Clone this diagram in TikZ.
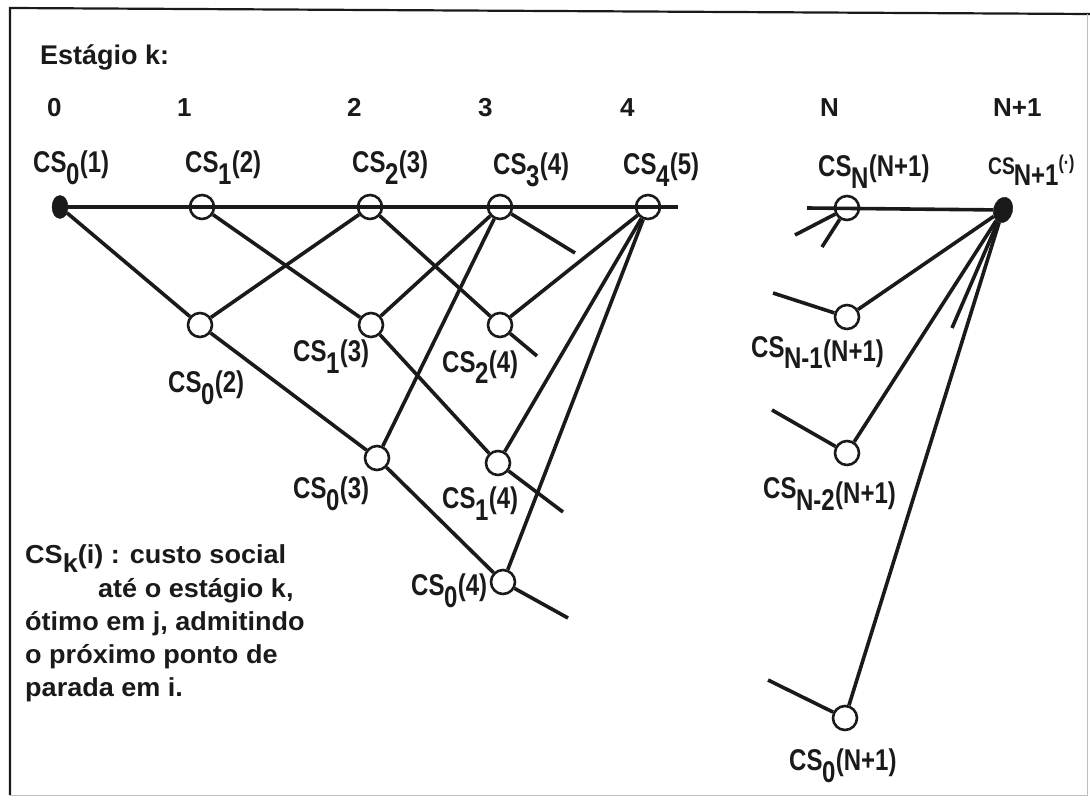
\documentclass[tikz,border=0pt]{standalone}
\usepackage{fontspec}
\usetikzlibrary{shapes.geometric}
\setmainfont{Liberation Sans}
\newfontfamily\lblfont{Liberation Sans}[FakeStretch=0.8]
\newfontfamily\legfont{Liberation Sans}[FakeStretch=1.04]
\newcommand{\sbx}[1]{\kern-0.5pt\raisebox{-12pt}{#1}\kern0.5pt}
\definecolor{ink}{HTML}{1A1A1A}
\begin{document}
\begin{tikzpicture}[x=1pt,y=-1pt,
  st/.style={circle,draw=ink,line width=2.6pt,minimum size=24pt,inner sep=0pt},
  fl/.style={ellipse,fill=ink,draw=ink,minimum width=16pt,minimum height=23pt,inner sep=0pt},
  ed/.style={line width=3.6pt,draw=ink},
  lbl/.style={anchor=base west,inner sep=0pt,text=ink,font=\lblfont\bfseries\fontsize{30}{30}\selectfont},
  stg/.style={anchor=base west,inner sep=0pt,text=ink,font=\bfseries\fontsize{26}{26}\selectfont},
  leg/.style={anchor=base west,inner sep=0pt,text=ink,font=\legfont\bfseries\fontsize{26}{26}\selectfont}]
\useasboundingbox (0,0) rectangle (1090,802);
% frame
\draw[line width=2.2pt,ink] (10,795) -- (10,8) -- (1090,14);
\draw[line width=1pt,black!25] (1087,14) -- (1087,795) -- (10,795);
% header
\node[stg,font=\bfseries\fontsize{27}{27}\selectfont] (title) at (40,65) {Estágio k:};
\node[stg] (k0) at (47,117) {0};
\node[stg] (k1) at (177,117) {1};
\node[stg] (k2) at (347,117) {2};
\node[stg] (k3) at (478,117) {3};
\node[stg] (k4) at (620,117) {4};
\node[stg] (kN) at (820,117) {N};
\node[stg] (kN1) at (993,117) {N+1};
% nodes
\node[fl] (A0) at (60,207) {};
\node[st] (n1) at (202,207) {};
\node[st] (n2) at (370,207) {};
\node[st] (n3) at (500,207) {};
\node[st] (n4) at (648,207) {};
\node[st] (c02) at (200,325) {};
\node[st] (c13) at (371,325) {};
\node[st] (c24) at (500,325) {};
\node[st] (c03) at (377,458) {};
\node[st] (c14) at (498,463) {};
\node[st] (c04) at (503,582) {};
\node[st] (nN) at (847,208) {};
\node[fl,minimum width=19pt,minimum height=26pt,rotate=-15] (AN) at (1003,210) {};
\node[st] (nNa) at (847,317) {};
\node[st] (nNb) at (847,453) {};
\node[st] (nNc) at (845,718) {};
% free ends
\coordinate (h1) at (678,207);
\coordinate (h2) at (807,208);
\coordinate (s04) at (568,618);
\coordinate (s14) at (563,512);
\coordinate (s24) at (537,356);
\coordinate (s3) at (575,253);
\coordinate (sNa) at (795,235);
\coordinate (sNb) at (822,247);
\coordinate (sa) at (773,293);
\coordinate (sb) at (772,410);
\coordinate (sc) at (768,680);
\coordinate (sAN) at (952,328);
% connectors
\draw[ed] (A0) -- (h1);
\draw[ed] (h2) -- (AN);
\draw[ed] (A0) -- (c02);
\draw[ed] (c02) -- (c03);
\draw[ed] (c03) -- (c04);
\draw[ed] (c04) -- (s04);
\draw[ed] (n1) -- (c13);
\draw[ed] (c13) -- (c14);
\draw[ed] (c14) -- (s14);
\draw[ed] (n2) -- (c24);
\draw[ed] (c24) -- (s24);
\draw[ed] (n3) -- (s3);
\draw[ed] (c02) -- (n2);
\draw[ed] (c13) -- (n3);
\draw[ed] (c03) -- (n3);
\draw[ed] (c24) -- (n4);
\draw[ed] (c14) -- (n4);
\draw[ed] (c04) -- (n4);
\draw[ed] (nN) -- (sNa);
\draw[ed] (nN) -- (sNb);
\draw[ed] (nNa) -- (AN);
\draw[ed] (nNa) -- (sa);
\draw[ed] (nNb) -- (AN);
\draw[ed] (nNb) -- (sb);
\draw[ed] (nNc) -- (AN);
\draw[ed] (nNc) -- (sc);
\draw[ed] (AN) -- (sAN);
% labels
\node[lbl] (l01) at (33,173) {CS\sbx{0}(1)};
\node[lbl] (l12) at (185,173) {CS\sbx{1}(2)};
\node[lbl] (l23) at (352,173) {CS\sbx{2}(3)};
\node[lbl] (l34) at (493,175) {CS\sbx{3} (4)};
\node[lbl] (l45) at (623,175) {CS\sbx{4}(5)};
\node[lbl] (lN) at (818,177) {CS\sbx{N}(N+1)};
\node[lbl] (lN1) at (988,175) {\fontsize{24}{24}\selectfont CS\kern-1pt\raisebox{-11pt}{\fontsize{30}{30}\selectfont N+1}\raisebox{5pt}{\fontsize{20}{20}\selectfont(·)}};
\node[lbl] (l02) at (168,392) {CS\sbx{0}(2)};
\node[lbl] (l13) at (293,362) {CS\sbx{1}(3)};
\node[lbl] (l24) at (442,372) {CS\sbx{2}(4)};
\node[lbl] (l03) at (293,498) {CS\sbx{0}(3)};
\node[lbl] (l14) at (442,508) {CS\sbx{1}(4)};
\node[lbl] (l04) at (411,595) {CS\sbx{0}(4)};
\node[lbl] (lNa) at (751,357) {CS\sbx{N-1}\raisebox{-5pt}{(N+1)}};
\node[lbl] (lNb) at (763,498) {CS\sbx{N-2}\raisebox{-5pt}{(N+1)}};
\node[lbl] (lNc) at (789,770) {CS\sbx{0}(N+1)};
% legend
\node[leg] (g1) at (25,563) {CS\raisebox{-9pt}{k}(i) : custo social};
\node[leg] (g2) at (98,597) {até o estágio k,};
\node[leg] (g3) at (25,630) {ótimo em j, admitindo};
\node[leg] (g4) at (25,663) {o próximo ponto de};
\node[leg] (g5) at (25,696) {parada em i.};
\end{tikzpicture}
\end{document}
